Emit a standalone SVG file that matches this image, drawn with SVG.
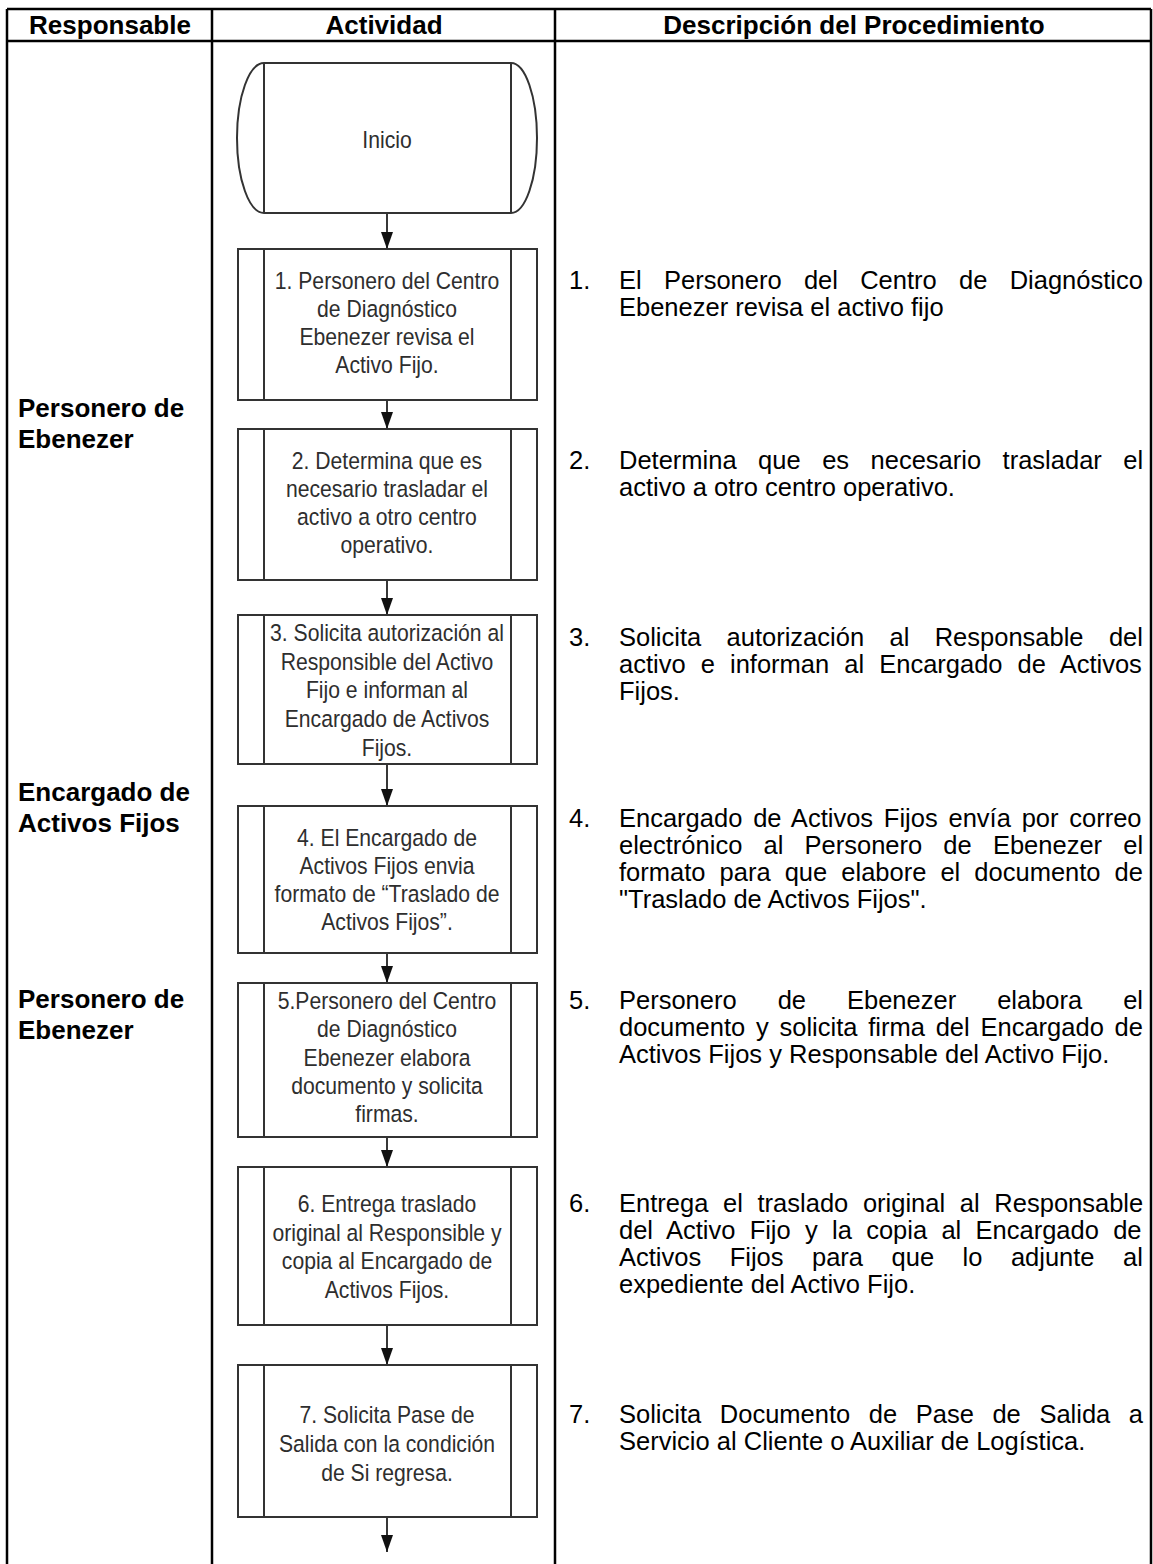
<svg xmlns="http://www.w3.org/2000/svg" width="1153" height="1564" viewBox="0 0 1153 1564">
<style>
.grid{stroke:#000;stroke-width:2.5;fill:none}
.hdr{font-family:"Liberation Sans",Arial,sans-serif;font-weight:bold;font-size:26px;fill:#000;text-anchor:middle}
.resp{font-family:"Liberation Sans",Arial,sans-serif;font-weight:bold;font-size:26px;fill:#000}
.shape{fill:#fff;stroke:#333;stroke-width:2}
.bt{font-family:"Liberation Sans",Arial,sans-serif;font-size:23.5px;fill:#2e2e2e;text-anchor:middle}
.desc{font-family:"Liberation Sans",Arial,sans-serif;font-size:25.5px;fill:#000}
.conn{stroke:#222;stroke-width:1.8;fill:none;marker-end:url(#ah)}
</style>
<defs>
<marker id="ah" markerUnits="userSpaceOnUse" markerWidth="17" markerHeight="12" viewBox="0 0 17 12" refX="17" refY="6" orient="auto">
<path d="M0,0 L17,6 L0,12 Z" fill="#111"/>
</marker>
</defs>
<rect width="1153" height="1564" fill="#fff"/>
<g id="table">
<line class="grid" x1="7" y1="9" x2="1151" y2="9"/>
<line class="grid" x1="7" y1="41" x2="1151" y2="41"/>
<line class="grid" x1="7" y1="9" x2="7" y2="1564"/>
<line class="grid" x1="212" y1="9" x2="212" y2="1564"/>
<line class="grid" x1="555" y1="9" x2="555" y2="1564"/>
<line class="grid" x1="1151" y1="9" x2="1151" y2="1564"/>
<text class="hdr" x="110" y="34">Responsable</text>
<text class="hdr" x="384" y="34">Actividad</text>
<text class="hdr" x="854" y="34">Descripción del Procedimiento</text>
</g>
<g id="responsables">
<text class="resp" x="18" y="417">Personero de</text>
<text class="resp" x="18" y="448">Ebenezer</text>
<text class="resp" x="18" y="801">Encargado de</text>
<text class="resp" x="18" y="832">Activos Fijos</text>
<text class="resp" x="18" y="1008">Personero de</text>
<text class="resp" x="18" y="1039">Ebenezer</text>
</g>
<g id="connectors">
<line class="conn" x1="387" y1="213" x2="387" y2="249"/>
<line class="conn" x1="387" y1="400" x2="387" y2="429"/>
<line class="conn" x1="387" y1="580" x2="387" y2="615"/>
<line class="conn" x1="387" y1="764" x2="387" y2="806"/>
<line class="conn" x1="387" y1="953" x2="387" y2="983"/>
<line class="conn" x1="387" y1="1137" x2="387" y2="1167"/>
<line class="conn" x1="387" y1="1325" x2="387" y2="1365"/>
<line class="conn" x1="387" y1="1517" x2="387" y2="1552"/>
</g>
<g id="inicio">
<path class="shape" d="M264,63 L511,63 A26,75 0 0 1 511,213 L264,213 A27,75 0 0 1 264,63 Z"/>
<line class="shape" x1="264" y1="63" x2="264" y2="213"/>
<line class="shape" x1="511" y1="63" x2="511" y2="213"/>
<g transform="translate(387 0) scale(0.9 1) translate(-387 0)">
<text class="bt" x="387" y="148" font-size="27">Inicio</text>
</g>
</g>
<g id="p1">
<rect class="shape" x="238" y="249" width="299" height="151"/>
<line class="shape" x1="264" y1="249" x2="264" y2="400"/>
<line class="shape" x1="511" y1="249" x2="511" y2="400"/>
<g transform="translate(387 0) scale(0.9 1) translate(-387 0)">
<text class="bt" x="387" y="289">1. Personero del Centro</text>
<text class="bt" x="387" y="317">de Diagnóstico</text>
<text class="bt" x="387" y="345">Ebenezer revisa el</text>
<text class="bt" x="387" y="373">Activo Fijo.</text>
</g>
</g>
<g id="p2">
<rect class="shape" x="238" y="429" width="299" height="151"/>
<line class="shape" x1="264" y1="429" x2="264" y2="580"/>
<line class="shape" x1="511" y1="429" x2="511" y2="580"/>
<g transform="translate(387 0) scale(0.9 1) translate(-387 0)">
<text class="bt" x="387" y="469">2. Determina que es</text>
<text class="bt" x="387" y="497">necesario trasladar el</text>
<text class="bt" x="387" y="525">activo a otro centro</text>
<text class="bt" x="387" y="553">operativo.</text>
</g>
</g>
<g id="p3">
<rect class="shape" x="238" y="615" width="299" height="149"/>
<line class="shape" x1="264" y1="615" x2="264" y2="764"/>
<line class="shape" x1="511" y1="615" x2="511" y2="764"/>
<g transform="translate(387 0) scale(0.9 1) translate(-387 0)">
<text class="bt" x="387" y="641">3. Solicita autorización al</text>
<text class="bt" x="387" y="670">Responsible del Activo</text>
<text class="bt" x="387" y="698">Fijo e informan al</text>
<text class="bt" x="387" y="727">Encargado de Activos</text>
<text class="bt" x="387" y="756">Fijos.</text>
</g>
</g>
<g id="p4">
<rect class="shape" x="238" y="806" width="299" height="147"/>
<line class="shape" x1="264" y1="806" x2="264" y2="953"/>
<line class="shape" x1="511" y1="806" x2="511" y2="953"/>
<g transform="translate(387 0) scale(0.9 1) translate(-387 0)">
<text class="bt" x="387" y="846">4. El Encargado de</text>
<text class="bt" x="387" y="874">Activos Fijos envia</text>
<text class="bt" x="387" y="902">formato de “Traslado de</text>
<text class="bt" x="387" y="930">Activos Fijos”.</text>
</g>
</g>
<g id="p5">
<rect class="shape" x="238" y="983" width="299" height="154"/>
<line class="shape" x1="264" y1="983" x2="264" y2="1137"/>
<line class="shape" x1="511" y1="983" x2="511" y2="1137"/>
<g transform="translate(387 0) scale(0.9 1) translate(-387 0)">
<text class="bt" x="387" y="1009">5.Personero del Centro</text>
<text class="bt" x="387" y="1037">de Diagnóstico</text>
<text class="bt" x="387" y="1066">Ebenezer elabora</text>
<text class="bt" x="387" y="1094">documento y solicita</text>
<text class="bt" x="387" y="1122">firmas.</text>
</g>
</g>
<g id="p6">
<rect class="shape" x="238" y="1167" width="299" height="158"/>
<line class="shape" x1="264" y1="1167" x2="264" y2="1325"/>
<line class="shape" x1="511" y1="1167" x2="511" y2="1325"/>
<g transform="translate(387 0) scale(0.9 1) translate(-387 0)">
<text class="bt" x="387" y="1212">6. Entrega traslado</text>
<text class="bt" x="387" y="1241">original al Responsible y</text>
<text class="bt" x="387" y="1269">copia al Encargado de</text>
<text class="bt" x="387" y="1298">Activos Fijos.</text>
</g>
</g>
<g id="p7">
<rect class="shape" x="238" y="1365" width="299" height="152"/>
<line class="shape" x1="264" y1="1365" x2="264" y2="1517"/>
<line class="shape" x1="511" y1="1365" x2="511" y2="1517"/>
<g transform="translate(387 0) scale(0.9 1) translate(-387 0)">
<text class="bt" x="387" y="1423">7. Solicita Pase de</text>
<text class="bt" x="387" y="1452">Salida con la condición</text>
<text class="bt" x="387" y="1481">de Si regresa.</text>
</g>
</g>
<g id="descripciones">
<text class="desc" x="569" y="289">1.</text>
<text class="desc" x="619" y="289" word-spacing="15.2">El Personero del Centro de Diagnóstico</text>
<text class="desc" x="619" y="316">Ebenezer revisa el activo fijo</text>
<text class="desc" x="569" y="469">2.</text>
<text class="desc" x="619" y="469" word-spacing="14.4">Determina que es necesario trasladar el</text>
<text class="desc" x="619" y="496">activo a otro centro operativo.</text>
<text class="desc" x="569" y="646">3.</text>
<text class="desc" x="619" y="646" word-spacing="18.3">Solicita autorización al Responsable del</text>
<text class="desc" x="619" y="673" word-spacing="8">activo e informan al Encargado de Activos</text>
<text class="desc" x="619" y="700">Fijos.</text>
<text class="desc" x="569" y="827">4.</text>
<text class="desc" x="619" y="827" word-spacing="3.7">Encargado de Activos Fijos envía por correo</text>
<text class="desc" x="619" y="854" word-spacing="14.1">electrónico al Personero de Ebenezer el</text>
<text class="desc" x="619" y="881" word-spacing="7">formato para que elabore el documento de</text>
<text class="desc" x="619" y="908">"Traslado de Activos Fijos".</text>
<text class="desc" x="569" y="1009">5.</text>
<text class="desc" x="619" y="1009" word-spacing="33.9">Personero de Ebenezer elabora el</text>
<text class="desc" x="619" y="1036" word-spacing="3.7">documento y solicita firma del Encargado de</text>
<text class="desc" x="619" y="1063">Activos Fijos y Responsable del Activo Fijo.</text>
<text class="desc" x="569" y="1212">6.</text>
<text class="desc" x="619" y="1212" word-spacing="7.6">Entrega el traslado original al Responsable</text>
<text class="desc" x="619" y="1239" word-spacing="7.2">del Activo Fijo y la copia al Encargado de</text>
<text class="desc" x="619" y="1266" word-spacing="21.4">Activos Fijos para que lo adjunte al</text>
<text class="desc" x="619" y="1293">expediente del Activo Fijo.</text>
<text class="desc" x="569" y="1423">7.</text>
<text class="desc" x="619" y="1423" word-spacing="11.5">Solicita Documento de Pase de Salida a</text>
<text class="desc" x="619" y="1450">Servicio al Cliente o Auxiliar de Logística.</text>
</g>
</svg>
